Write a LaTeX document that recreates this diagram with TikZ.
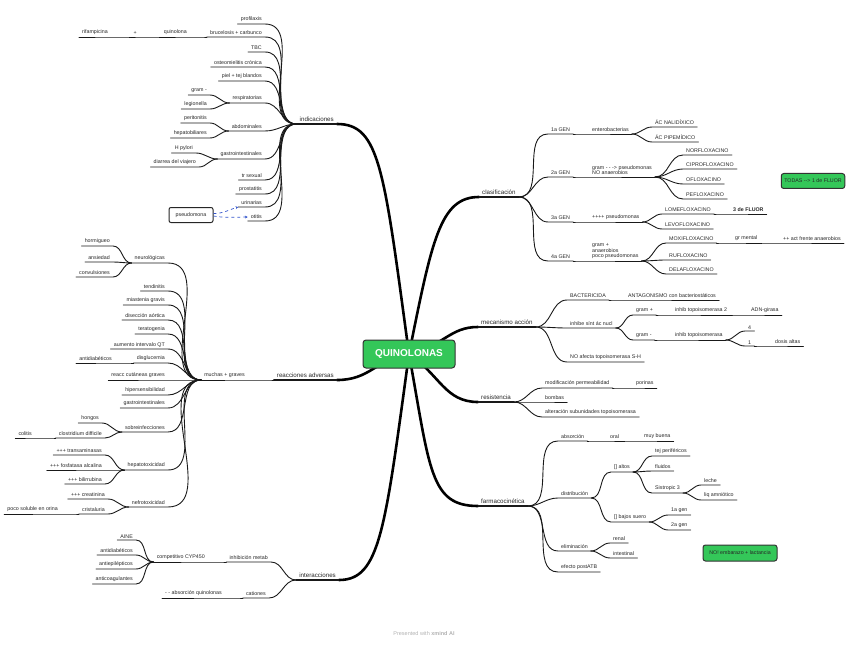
\documentclass[tikz,border=0pt]{standalone}
\usepackage{fontspec}
\setmainfont{Liberation Sans}
\usetikzlibrary{arrows.meta,backgrounds}

\definecolor{xgreen}{RGB}{52,199,89}
\definecolor{xblue}{RGB}{51,85,204}

\begin{document}
\begin{tikzpicture}[
  x=1pt, y=-1pt,
  every node/.style={font=\fontsize{5.3}{5.9}\selectfont, text=black!85, inner xsep=3pt, inner ysep=1.8pt},
  rt/.style={anchor=south west, align=left},
  lt/.style={anchor=south east, align=right},
  topic/.style={font=\fontsize{6.2}{7}\selectfont},
  lk/.style={line width=0.9pt, black!90, line cap=round},
  mainlk/.style={line width=2.6pt, black, line cap=round},
  rk/.style={out=0, in=180},
  lf/.style={out=180, in=0},
  greenbox/.style={draw=black!80, line width=1pt, fill=xgreen, rounded corners=2.5pt},
  dep/.style={xblue, dashed, line width=0.7pt, -{Stealth[length=2.8pt, width=2.8pt]}},
]
\useasboundingbox (0,0) rectangle (848,655);

% centre and main topics
\node[greenbox, font=\fontsize{10}{12}\selectfont\bfseries, text=white,
      minimum width=92pt, minimum height=28pt, rounded corners=3pt] (qn) at (409,354) {QUINOLONAS};
\node[rt, topic] (cl)  at (479,197) {clasificación};
\node[rt, topic] (mec) at (478,327) {mecanismo acción};
\node[rt, topic] (res) at (478,402) {resistencia};
\node[rt, topic] (far) at (478,506) {farmacocinética};
\node[lt, topic] (ind) at (337,124) {indicaciones};
\node[lt, topic] (rea) at (337,380) {reacciones adversas};
\node[lt, topic] (int) at (339,580) {interacciones};

\begin{scope}[on background layer]
  \draw[mainlk] (qn.center) .. controls (432,240) and (440,197) .. (cl.south west);
  \draw[mainlk] (qn.center) .. controls (445,345) and (450,327) .. (mec.south west);
  \draw[mainlk] (qn.center) .. controls (440,375) and (445,402) .. (res.south west);
  \draw[mainlk] (qn.center) .. controls (430,470) and (430,506) .. (far.south west);
  \draw[mainlk] (qn.center) .. controls (384,170) and (380,124) .. (ind.south east);
  \draw[mainlk] (qn.center) .. controls (375,360) and (370,380) .. (rea.south east);
  \draw[mainlk] (qn.center) .. controls (385,530) and (380,580) .. (int.south east);
\end{scope}

% clasificacion
\node[rt] (g1)  at (548,134) {1a GEN};
\node[rt] (ent) at (589,134) {enterobacterias};
\node[rt] (nal) at (652,127) {ÁC NALIDÍXICO};
\node[rt] (pip) at (652,142) {ÁC PIPEMÍDICO};
\node[rt] (g2)  at (548,177) {2a GEN};
\node[rt] (gn2) at (589,177) {gram - - -> pseudomonas\\NO anaerobios};
\node[rt] (nor) at (683,155) {NORFLOXACINO};
\node[rt] (cip) at (683,169) {CIPROFLOXACINO};
\node[rt] (ofl) at (683,184) {OFLOXACINO};
\node[rt] (pef) at (683,199) {PEFLOXACINO};
\node[rt] (g3)  at (548,222) {3a GEN};
\node[rt] (pse) at (589,222) {++++ pseudomonas};
\node[rt] (lom) at (662,214) {LOMEFLOXACINO};
\node[rt, font=\fontsize{5.3}{5.9}\selectfont\bfseries] (fl3) at (730,214) {3 de FLUOR};
\node[rt] (lev) at (662,229) {LEVOFLOXACINO};
\node[rt] (g4)  at (548,261) {4a GEN};
\node[rt] (gn4) at (589,261) {gram +\\anaerobios\\poco pseudomonas};
\node[rt] (mox) at (666,243) {MOXIFLOXACINO};
\node[rt] (grm) at (732,243) {gr mental};
\node[rt] (act) at (780,243) {++ act frente anaerobios};
\node[rt] (ruf) at (666,260) {RUFLOXACINO};
\node[rt] (del) at (666,274) {DELAFLOXACINO};
\node[greenbox, minimum width=59pt, minimum height=15pt] (tod) at (813,181) {TODAS -{}-> 1 de FLUOR};

% mecanismo accion
\node[rt] (bac)  at (567,300) {BACTERICIDA};
\node[rt] (ant)  at (625,300) {ANTAGONISMO con bacteriostáticos};
\node[rt] (inh)  at (567,328) {inhibe sínt ác nucl};
\node[rt] (gp)   at (633,315) {gram +};
\node[rt] (itp2) at (672,315) {inhib topoisomerasa 2};
\node[rt] (adn)  at (748,315) {ADN-girasa};
\node[rt] (gm)   at (633,340) {gram -};
\node[rt] (itp)  at (672,340) {inhib topoisomerasa};
\node[rt] (n4)   at (745,331) {4};
\node[rt] (n1)   at (745,346) {1};
\node[rt] (dos)  at (772,346) {dosis altas};
\node[rt] (noaf) at (567,362) {NO afecta topoisomerasa S-H};

% resistencia
\node[rt] (mod) at (542,388) {modificación permeabilidad};
\node[rt] (por) at (633,388) {porinas};
\node[rt] (bom) at (542,402) {bombas};
\node[rt] (alt) at (542,417) {alteración subunidades topoisomerasa};

% farmacocinetica
\node[rt] (abs)  at (558,441) {absorción};
\node[rt] (ora)  at (607,441) {oral};
\node[rt] (muy)  at (641,441) {muy buena};
\node[rt] (dis)  at (558,498) {distribución};
\node[rt] (alto) at (611,472) {[] altos};
\node[rt] (tej)  at (652,456) {tej periféricos};
\node[rt] (flu)  at (652,471) {fluidos};
\node[rt] (sis)  at (652,493) {Sistropic 3};
\node[rt] (lec)  at (701,485) {leche};
\node[rt] (liq)  at (701,500) {liq amniótico};
\node[rt] (baj)  at (611,522) {[] bajos suero};
\node[rt] (g1a)  at (668,515) {1a gen};
\node[rt] (g2a)  at (668,530) {2a gen};
\node[rt] (eli)  at (558,551) {eliminación};
\node[rt] (ren)  at (610,543) {renal};
\node[rt] (inl)  at (610,558) {intestinal};
\node[rt] (efe)  at (558,572) {efecto postATB};
\node[greenbox, minimum width=74pt, minimum height=16pt] (emb) at (740,553) {NO! embarazo + lactancia};

% indicaciones
\node[lt] (pro)  at (265,24)  {profilaxis};
\node[lt] (bru)  at (265,37)  {brucelosis + carbunco};
\node[lt] (qui)  at (190,37)  {quinolona};
\node[lt] (plu)  at (140,37)  {+};
\node[lt] (rif)  at (111,37)  {rifampicina};
\node[lt] (tbc)  at (265,52)  {TBC};
\node[lt] (ost)  at (265,67)  {osteomielitis crónica};
\node[lt] (pie)  at (265,81)  {piel + tej blandos};
\node[lt] (resp) at (265,103) {respiratorias};
\node[lt] (gr)   at (210,95)  {gram -};
\node[lt] (leg)  at (210,109) {legionella};
\node[lt] (abd)  at (265,131) {abdominales};
\node[lt] (per)  at (210,123) {peritonitis};
\node[lt] (hep)  at (210,138) {hepatobiliares};
\node[lt] (gas)  at (265,159) {gastrointestinales};
\node[lt] (hpy)  at (196,153) {H pylori};
\node[lt] (dia)  at (199,167) {diarrea del viajero};
\node[lt] (its)  at (265,180) {tr sexual};
\node[lt] (pros) at (265,194) {prostatitis};
\node[lt] (uri)  at (265,207) {urinarias};
\node[lt] (oti)  at (265,221) {otitis};
\node[draw=black!85, line width=1pt, rounded corners=2pt, fill=white,
      minimum width=44pt, minimum height=15pt] (pseu) at (191,215) {pseudomona};

% reacciones adversas
\node[lt] (mg)  at (248,380) {muchas + graves};
\node[lt] (neu) at (168,263) {neurológicas};
\node[lt] (hor) at (113,246) {hormigueo};
\node[lt] (ans) at (113,262) {ansiedad};
\node[lt] (con) at (113,277) {convulsiones};
\node[lt] (ten) at (168,291) {tendinitis};
\node[lt] (mia) at (168,305) {miastenia gravis};
\node[lt] (dao) at (168,320) {disección aórtica};
\node[lt] (ter) at (168,334) {teratogenia};
\node[lt] (aqt) at (168,349) {aumento intervalo QT};
\node[lt] (dgl) at (168,363) {disglucemia};
\node[lt] (adb) at (115,363) {antidiabéticos};
\node[lt] (rcg) at (168,380) {reacc cutáneas graves};
\node[lt] (hip) at (168,395) {hipersensibilidad};
\node[lt] (gin) at (168,408) {gastrointestinales};
\node[lt] (sob) at (168,432) {sobreinfecciones};
\node[lt] (hon) at (102,423) {hongos};
\node[lt] (clo) at (105,438) {clostridium difficile};
\node[lt] (col) at (35,438)  {colitis};
\node[lt] (hto) at (168,470) {hepatotoxicidad};
\node[lt] (tra) at (105,455) {+++ transaminasas};
\node[lt] (fos) at (105,470) {+++ fosfatasa alcalina};
\node[lt] (bil) at (105,484) {+++ bilirrubina};
\node[lt] (nef) at (168,507) {nefrotoxicidad};
\node[lt] (cre) at (108,499) {+++ creatinina};
\node[lt] (cri) at (108,514) {cristaluria};
\node[lt] (pso) at (61,514)  {poco soluble en orina};

% interacciones
\node[lt] (ihm) at (271,562) {inhibición metab};
\node[lt] (cyp) at (208,562) {competitivo CYP450};
\node[lt] (ain) at (136,540) {AINE};
\node[lt] (adi) at (136,555) {antidiabéticos};
\node[lt] (aep) at (136,569) {antiepilépticos};
\node[lt] (aco) at (136,584) {anticoagulantes};
\node[lt] (cat) at (269,598) {cationes};
\node[lt] (abq) at (225,598) {- - absorción quinolonas};

% branches
\foreach \m in {cl,mec,res,far,ind,rea,int}
  \draw[lk, line width=1.3pt] (\m.south west) -- (\m.south east);
\foreach \a/\b in {cl/g1, g1/ent, ent/nal, ent/pip, cl/g2, g2/gn2, gn2/nor, gn2/cip, gn2/ofl, gn2/pef,
    cl/g3, g3/pse, pse/lom, lom/fl3, pse/lev, cl/g4, g4/gn4, gn4/mox, mox/grm, grm/act, gn4/ruf, gn4/del,
    mec/bac, bac/ant, mec/inh, inh/gp, gp/itp2, itp2/adn, inh/gm, gm/itp, itp/n4, itp/n1, n1/dos, mec/noaf,
    res/mod, mod/por, res/bom, res/alt,
    far/abs, abs/ora, ora/muy, far/dis, dis/alto, alto/tej, alto/flu, alto/sis, sis/lec, sis/liq,
    dis/baj, baj/g1a, baj/g2a, far/eli, eli/ren, eli/inl, far/efe}
  \draw[lk] (\a.south east) to[rk] (\b.south west) -- (\b.south east);
\foreach \a/\b in {ind/pro, ind/bru, bru/qui, qui/plu, plu/rif, ind/tbc, ind/ost, ind/pie, ind/resp,
    resp/gr, resp/leg, ind/abd, abd/per, abd/hep, ind/gas, gas/hpy, gas/dia, ind/its, ind/pros, ind/uri, ind/oti,
    rea/mg, mg/neu, neu/hor, neu/ans, neu/con, mg/ten, mg/mia, mg/dao, mg/ter, mg/aqt, mg/dgl, dgl/adb,
    mg/rcg, mg/hip, mg/gin, mg/sob, sob/hon, sob/clo, clo/col, mg/hto, hto/tra, hto/fos, hto/bil,
    mg/nef, nef/cre, nef/cri, cri/pso,
    int/ihm, ihm/cyp, cyp/ain, cyp/adi, cyp/aep, cyp/aco, int/cat, cat/abq}
  \draw[lk] (\a.south west) to[lf] (\b.south east) -- (\b.south west);

% pseudomona
\draw[dep] ([yshift=1.5pt]pseu.east) .. controls +(10,0) and +(-10,3) .. (uri.south west);
\draw[dep] ([yshift=-1pt]pseu.east) .. controls +(10,2) and +(-10,0) .. (oti.west);

\node[font=\fontsize{5.5}{6}\selectfont, text=black!30] (wm) at (424,634) {Presented with \textbf{xmind AI}};
\end{tikzpicture}
\end{document}
